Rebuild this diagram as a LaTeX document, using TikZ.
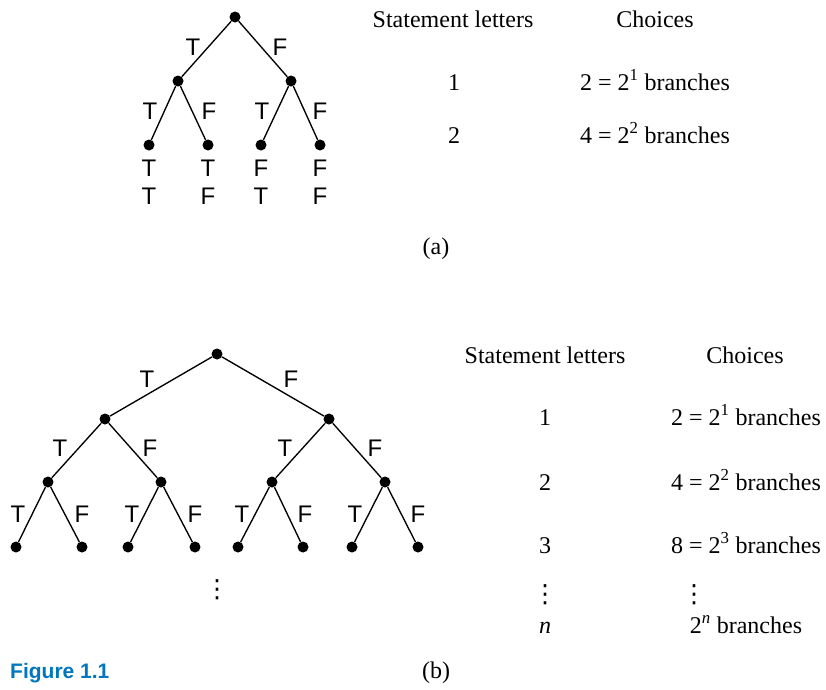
\documentclass[tikz,border=0pt]{standalone}
\usepackage{fontspec}
\setmainfont{Liberation Serif}
\newfontfamily\lsans{Liberation Sans}
\newfontfamily\dvs{DejaVu Sans}
\definecolor{figblue}{RGB}{0,118,190}
\begin{document}
\begin{tikzpicture}[x=1pt,y=-1pt,
 dot/.style={circle,fill=black,inner sep=0pt,minimum size=11pt},
 edge/.style={line width=1.35pt},
 tf/.style={anchor=base,inner sep=0pt,font=\lsans\fontsize{24}{28}\selectfont},
 tx/.style={anchor=base,inner sep=0pt,font=\fontsize{24}{28}\selectfont},
 vd/.style={anchor=base,inner sep=0pt,font=\dvs\fontsize{25}{29}\selectfont},
 ]
\useasboundingbox (0,0) rectangle (826,689);
% ---------- Tree (a)
\node[dot] (a) at (235,17) {};
\node[dot] (aT) at (178,81) {};
\node[dot] (aF) at (291,81) {};
\node[dot] (aTT) at (149,145) {};
\node[dot] (aTF) at (208,145) {};
\node[dot] (aFT) at (261,145) {};
\node[dot] (aFF) at (320,145) {};
\draw[edge] (a) -- (aT);
\draw[edge] (a) -- (aF);
\draw[edge] (aT) -- (aTT);
\draw[edge] (aT) -- (aTF);
\draw[edge] (aF) -- (aFT);
\draw[edge] (aF) -- (aFF);
\node[tf] (la1) at (193,55) {T};
\node[tf] (la2) at (280,55) {F};
\node[tf] (la3) at (150,119) {T};
\node[tf] (la4) at (209,119) {F};
\node[tf] (la5) at (262,119) {T};
\node[tf] (la6) at (320,119) {F};
\node[tf] (r11) at (149,176) {T};
\node[tf] (r12) at (208,176) {T};
\node[tf] (r13) at (261,176) {F};
\node[tf] (r14) at (320,176) {F};
\node[tf] (r21) at (149,204) {T};
\node[tf] (r22) at (208,204) {F};
\node[tf] (r23) at (261,204) {T};
\node[tf] (r24) at (320,204) {F};
% ---------- Table (a)
\node[tx] (ha1) at (453,27) {Statement letters};
\node[tx] (ha2) at (655,27) {Choices};
\node[tx] (na1) at (454,90) {1};
\node[tx] (ca1) at (655,90) {2 = 2\textsuperscript{1} branches};
\node[tx] (na2) at (454,143) {2};
\node[tx] (ca2) at (655,143) {4 = 2\textsuperscript{2} branches};
\node[tx] (capa) at (436,254) {(a)};
% ---------- Tree (b)
\node[dot] (b) at (217,354) {};
\node[dot] (bT) at (105,419) {};
\node[dot] (bF) at (329,419) {};
\node[dot] (bTT) at (48,482) {};
\node[dot] (bTF) at (161,482) {};
\node[dot] (bFT) at (272,482) {};
\node[dot] (bFF) at (385,482) {};
\node[dot] (bTTT) at (16,547) {};
\node[dot] (bTTF) at (82,547) {};
\node[dot] (bTFT) at (128,547) {};
\node[dot] (bTFF) at (195,547) {};
\node[dot] (bFTT) at (238,547) {};
\node[dot] (bFTF) at (303,547) {};
\node[dot] (bFFT) at (352,547) {};
\node[dot] (bFFF) at (418,547) {};
\draw[edge] (b) -- (bT);
\draw[edge] (b) -- (bF);
\draw[edge] (bT) -- (bTT);
\draw[edge] (bT) -- (bTF);
\draw[edge] (bF) -- (bFT);
\draw[edge] (bF) -- (bFF);
\draw[edge] (bTT) -- (bTTT);
\draw[edge] (bTT) -- (bTTF);
\draw[edge] (bTF) -- (bTFT);
\draw[edge] (bTF) -- (bTFF);
\draw[edge] (bFT) -- (bFTT);
\draw[edge] (bFT) -- (bFTF);
\draw[edge] (bFF) -- (bFFT);
\draw[edge] (bFF) -- (bFFF);
\node[tf] (lb1) at (147,387) {T};
\node[tf] (lb2) at (291,387) {F};
\node[tf] (lb3) at (60,456) {T};
\node[tf] (lb4) at (150,456) {F};
\node[tf] (lb5) at (285,456) {T};
\node[tf] (lb6) at (375,456) {F};
\node[tf] (lb7) at (18,522) {T};
\node[tf] (lb8) at (82,522) {F};
\node[tf] (lb9) at (132,522) {T};
\node[tf] (lb10) at (195,522) {F};
\node[tf] (lb11) at (242,522) {T};
\node[tf] (lb12) at (305,522) {F};
\node[tf] (lb13) at (355,522) {T};
\node[tf] (lb14) at (418,522) {F};
\node[vd] (vdt) at (217,597) {⋮};
% ---------- Table (b)
\node[tx] (hb1) at (545,363) {Statement letters};
\node[tx] (hb2) at (745,363) {Choices};
\node[tx] (nb1) at (545,425) {1};
\node[tx] (cb1) at (746,425) {2 = 2\textsuperscript{1} branches};
\node[tx] (nb2) at (545,490) {2};
\node[tx] (cb2) at (746,490) {4 = 2\textsuperscript{2} branches};
\node[tx] (nb3) at (545,553) {3};
\node[tx] (cb3) at (746,553) {8 = 2\textsuperscript{3} branches};
\node[vd] (vdn) at (545,602) {⋮};
\node[vd] (vdc) at (694,602) {⋮};
\node[tx] (nbn) at (545,633) {\textit{n}};
\node[tx] (cbn) at (746,633) {2\textsuperscript{\textit{n}} branches};
\node[tx] (capb) at (436,678) {(b)};
\node[anchor=base west,inner sep=0pt,text=figblue,font=\lsans\bfseries\fontsize{21}{25}\selectfont] (fig) at (10,678) {Figure 1.1};
\end{tikzpicture}
\end{document}
